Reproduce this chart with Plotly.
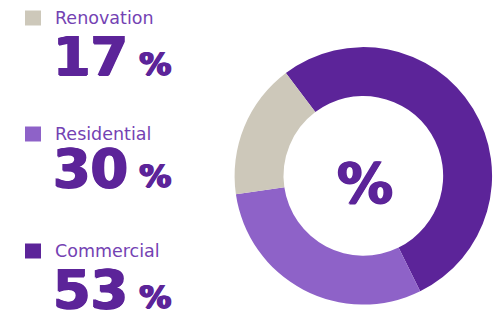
import plotly.graph_objects as go

categories = ["Commercial", "Residential", "Renovation"]
values = [53, 30, 17]
colors = ["#5c2499", "#8e62c8", "#cdc8ba"]

# Legend order (top to bottom)
legend_order = ["Renovation", "Residential", "Commercial"]

W, H = 495, 314
TEXT_COLOR = "#5c2499"
HEAVY = "1px 0px 0px #5c2499, -1px 0px 0px #5c2499, 0px 1px 0px #5c2499"

fig = go.Figure()
fig.add_trace(go.Pie(
    labels=categories,
    values=values,
    marker=dict(colors=colors, line=dict(width=0)),
    hole=0.62,
    sort=False,
    direction="clockwise",
    rotation=-37,
    textinfo="none",
    hoverinfo="label+percent",
    showlegend=False,
    domain=dict(x=[0.468, 1.0], y=[0.03, 0.85]),
))

# centre "%"
fig.add_annotation(x=365 / W, y=1 - 182 / H, xref="paper", yref="paper",
                   xanchor="center", yanchor="middle",
                   text="%", showarrow=False,
                   font=dict(family="DejaVu Sans", size=56, color=TEXT_COLOR,
                             weight="bold", shadow=HEAVY))

label_y = [18, 134, 251]      # px from top
number_y = [57, 168, 289]
shapes = []
val_map = dict(zip(categories, values))
col_map = dict(zip(categories, colors))
for cat, ly, ny in zip(legend_order, label_y, number_y):
    shapes.append(dict(type="rect", xref="paper", yref="paper",
                       x0=25 / W, x1=41 / W, y0=1 - (ly + 7.5) / H, y1=1 - (ly - 7.5) / H,
                       fillcolor=col_map[cat], line=dict(width=0)))
    fig.add_annotation(x=53 / W, y=1 - ly / H, xref="paper", yref="paper",
                       xanchor="left", yanchor="middle", showarrow=False,
                       text=cat,
                       font=dict(family="DejaVu Sans", size=17.5, color="#7442b3"))
    fig.add_annotation(x=51 / W, y=1 - ny / H, xref="paper", yref="paper",
                       xanchor="left", yanchor="middle", showarrow=False,
                       text=f"{val_map[cat]}<span style='font-size:32px'> %</span>",
                       font=dict(family="DejaVu Sans", size=54, color=TEXT_COLOR,
                                 weight="bold", shadow=HEAVY))

fig.update_layout(
    width=W, height=H,
    margin=dict(l=0, r=0, t=0, b=0),
    paper_bgcolor="white", plot_bgcolor="white",
    shapes=shapes,
)

fig.write_html("out.html", config={"displayModeBar": False},
               post_script="document.body.style.margin='0';")
